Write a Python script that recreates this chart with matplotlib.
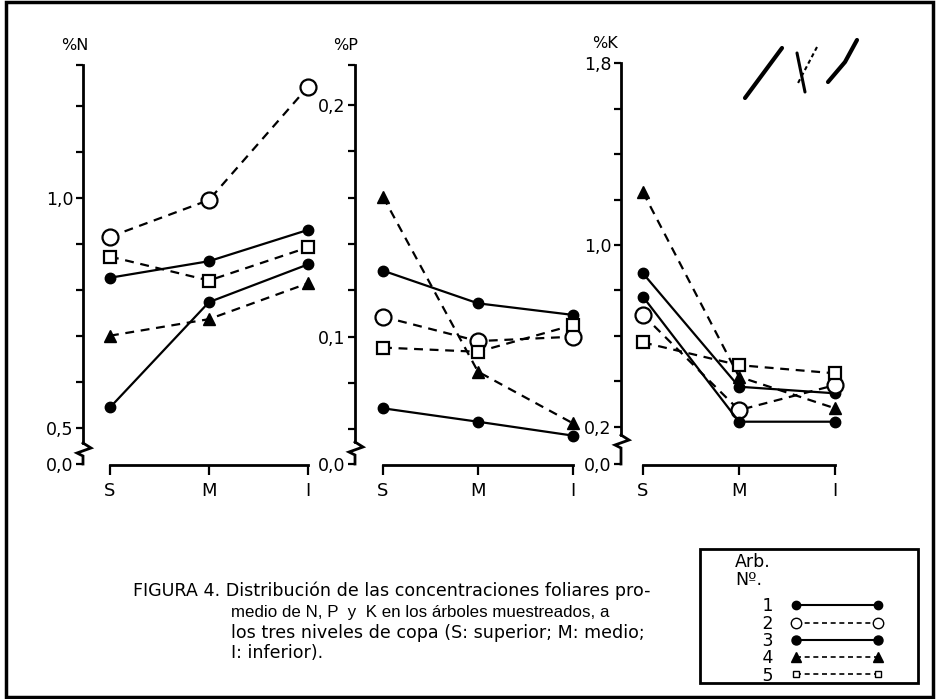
import matplotlib
matplotlib.use('Agg')
import matplotlib.pyplot as plt
from matplotlib.lines import Line2D
from matplotlib.patches import Rectangle

plt.rcParams['font.family'] = ['DejaVu Sans']

# ---------------- data ----------------
levels = ['S', 'M', 'I']
trees = ['1', '2', '3', '4', '5']

# %N per tree (S, M, I)
n_tree1 = [0.826, 0.862, 0.930]
n_tree2 = [0.915, 0.995, 1.241]
n_tree3 = [0.544, 0.773, 0.855]
n_tree4 = [0.700, 0.736, 0.814]
n_tree5 = [0.872, 0.820, 0.892]

# %P per tree
p_tree1 = [0.1285, 0.1144, 0.1094]
p_tree2 = [0.1086, 0.0981, 0.1000]
p_tree3 = [0.0691, 0.0633, 0.0573]
p_tree4 = [0.1604, 0.0849, 0.0626]
p_tree5 = [0.0953, 0.0935, 0.1050]

# %K per tree
k_tree1 = [0.875, 0.376, 0.347]
k_tree2 = [0.692, 0.273, 0.383]
k_tree3 = [0.772, 0.222, 0.222]
k_tree4 = [1.232, 0.420, 0.281]
k_tree5 = [0.571, 0.471, 0.435]

n_series = [n_tree1, n_tree2, n_tree3, n_tree4, n_tree5]
p_series = [p_tree1, p_tree2, p_tree3, p_tree4, p_tree5]
k_series = [k_tree1, k_tree2, k_tree3, k_tree4, k_tree5]

n_major = [0.5, 1.0]
n_major_labels = ['0,5', '1,0']
n_minor = [0.6, 0.7, 0.8, 0.9, 1.1, 1.2]
p_major = [0.1, 0.2]
p_major_labels = ['0,1', '0,2']
p_minor = [0.06, 0.08, 0.12, 0.14, 0.16, 0.18]
k_major = [0.2, 1.0, 1.8]
k_major_labels = ['0,2', '1,0', '1,8']
k_minor = [0.4, 0.6, 0.8, 1.2, 1.4, 1.6]

caption = ["FIGURA 4. Distribución de las concentraciones foliares pro-",
           "medio de N, P  y  K en los árboles muestreados, a",
           "los tres niveles de copa (S: superior; M: medio;",
           "I: inferior)."]

# ---------------- layout ----------------
W, H = 937, 699
fig = plt.figure(figsize=(W / 100, H / 100), dpi=100)

ov = fig.add_axes([0, 0, 1, 1])
ov.set_xlim(0, W)
ov.set_ylim(H, 0)
ov.axis('off')

DASH = (0, (4, 3))
styles = [
    dict(ls='-', marker='o', mfc='k', mec='k', ms=7.5, mew=1),
    dict(ls=DASH, marker='o', mfc='white', mec='k', ms=11.5, mew=1.6),
    dict(ls='-', marker='o', mfc='k', mec='k', ms=7.5, mew=1),
    dict(ls=DASH, marker='^', mfc='k', mec='k', ms=9, mew=1),
    dict(ls=DASH, marker='s', mfc='white', mec='k', ms=8.5, mew=1.6),
]

TOP_PX, BOT_PX = 60, 465


def make_panel(x0, x_right, xs_px, anchors, series, major, major_labels, minor,
               spine_top_px, break_px, zero_px, lab_text, lab_xy):
    (v1, p1), (v2, p2) = anchors

    def val(p):
        return v1 + (p - p1) * (v2 - v1) / (p2 - p1)

    ax = fig.add_axes([x0 / W, 1 - BOT_PX / H, (x_right - x0) / W, (BOT_PX - TOP_PX) / H])
    ax.patch.set_visible(False)
    s_px, i_px = xs_px
    per = (i_px - s_px) / 2.0
    ax.set_xlim((x0 - s_px) / per, 2 + (x_right - i_px) / per)
    ax.set_ylim(val(BOT_PX), val(TOP_PX))

    for vals, st in zip(series, styles):
        ax.plot(range(len(levels)), vals, color='k', lw=1.6, clip_on=False,
                dash_capstyle='butt', **st)

    for side in ('top', 'right'):
        ax.spines[side].set_visible(False)
    ax.spines['left'].set_linewidth(2)
    ax.spines['left'].set_bounds(val(break_px), val(spine_top_px))
    ax.spines['bottom'].set_linewidth(2)
    ax.spines['bottom'].set_bounds(0, 2)

    zero_v = val(zero_px)
    ax.set_yticks([zero_v] + major)
    ax.set_yticklabels(['0,0'] + major_labels)
    ax.set_yticks(minor + [val(spine_top_px)], minor=True)
    ax.tick_params(axis='y', which='both', direction='out', length=5, width=1.6,
                   labelsize=12.5, pad=2)
    ax.set_xticks(range(len(levels)))
    ax.set_xticklabels(levels)
    ax.tick_params(axis='x', direction='out', length=7, width=1.6, labelsize=13, pad=5)

    # axis break (zig-zag) and short stub down to the 0,0 level
    bx = x0
    ov.plot([bx, bx + 8, bx - 6, bx, bx, bx],
            [break_px, break_px + 5, break_px + 10, break_px + 13, break_px + 13, zero_px],
            color='k', lw=2, solid_joinstyle='miter')
    ov.text(lab_xy[0], lab_xy[1], lab_text, ha='center', va='center', fontsize=11.5)
    return ax


make_panel(83, 323, (110, 308), ((1.0, 197.7), (0.5, 427.7)), n_series,
           n_major, n_major_labels, n_minor, 65, 443, 464, '%N', (75, 46))
make_panel(355, 600, (383, 573), ((0.2, 105.0), (0.1, 336.7)), p_series,
           p_major, p_major_labels, p_minor, 65, 442, 464, '%P', (346, 46))
make_panel(621, 870, (643, 835), ((1.8, 63.3), (0.2, 426.7)), k_series,
           k_major, k_major_labels, k_minor, 63.3, 435, 464, '%K', (605, 43))

# ---------------- legend ----------------
LDASH = (0, (3, 2.2))
leg_styles = [
    dict(ls='-', marker='o', mfc='k', mec='k', ms=6, lw=1.5),
    dict(ls=LDASH, marker='o', mfc='white', mec='k', ms=7.5, mew=1.0, lw=1.2),
    dict(ls='-', marker='o', mfc='k', mec='k', ms=6.5, lw=1.5),
    dict(ls=LDASH, marker='^', mfc='k', mec='k', ms=7, lw=1.2),
    dict(ls=LDASH, marker='s', mfc='white', mec='k', ms=5, mew=1.0, lw=1.2),
]
handles = [Line2D([], [], color='k', **st) for st in leg_styles]
labels = ['     ' + t for t in trees]
leg = fig.legend(handles, labels, title='Arb.\nNº.', numpoints=2, markerfirst=False,
                 loc='upper left', bbox_to_anchor=(735 / W, 1 - 553 / H),
                 bbox_transform=fig.transFigure, frameon=False,
                 fontsize=12.5, title_fontsize=12.5,
                 handlelength=5.3, handletextpad=1.0, labelspacing=-0.04,
                 borderpad=0, borderaxespad=0, alignment='left')
leg.get_title().set_linespacing(1.0)
leg._legend_box.sep = 6
ov.add_patch(Rectangle((700, 549), 218, 134, fill=False, lw=2, ec='k'))

# ---------------- caption ----------------
cap_pos = [(133, 591), (231, 612), (231, 633), (231, 653)]
cap_fams = [['DejaVu Sans'], ['Liberation Sans', 'DejaVu Sans'], ['DejaVu Sans'], ['DejaVu Sans']]
cap_sizes = [12.6, 12.2, 12.6, 12.6]
for (x, y), line, fam, sz in zip(cap_pos, caption, cap_fams, cap_sizes):
    ov.text(x, y, line, ha='left', va='center', fontsize=sz, family=fam)

# ---------------- handwritten mark ----------------
hw = dict(color='k', lw=3, solid_capstyle='round')
ov.plot([745, 782], [98, 48], **hw)
ov.plot([797, 805], [53, 92], color='k', lw=2.2, solid_capstyle='round')
ov.plot([817, 797], [47, 85], color='k', lw=1.5, ls=(0, (2, 1.5)))
ov.plot([828, 845, 857], [82, 62, 40], **hw)

# ---------------- outer frame ----------------
ov.add_patch(Rectangle((6, 2), 927, 695, fill=False, lw=2.5, ec='k'))

fig.savefig('out.png', dpi=100)
